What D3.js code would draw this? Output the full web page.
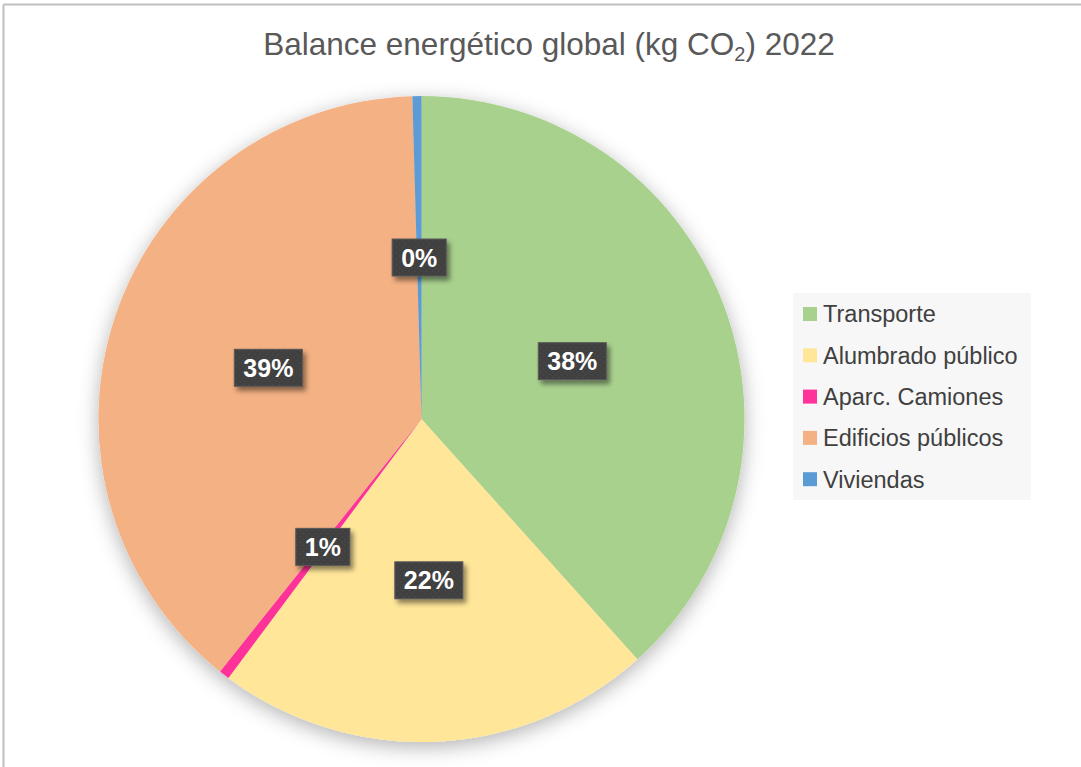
<!DOCTYPE html>
<html>
<head>
<meta charset="utf-8">
<script src="https://cdn.jsdelivr.net/npm/d3@7"></script>
<style>
  html, body { margin: 0; padding: 0; background: #ffffff; }
  svg { display: block; }
</style>
</head>
<body>
<svg id="chart" width="1081" height="767"></svg>
<script>
// Emission shares by sector (percent of total kg CO2)
const categories = ["Transporte", "Alumbrado público", "Aparc. Camiones", "Edificios públicos", "Viviendas"];
const values = [38.35, 21.85, 0.52, 38.83, 0.45];
const colors = ["#a9d18e", "#ffe699", "#ff3399", "#f4b183", "#5b9bd5"];

const W = 1081, H = 767;
const cx = 421.5, cy = 419, R = 323;

const svg = d3.select("#chart");
const defs = svg.append("defs");

// Soft halo around the pie
const halo = defs.append("filter").attr("id", "halo")
  .attr("x", "-20%").attr("y", "-20%").attr("width", "140%").attr("height", "140%");
halo.append("feDropShadow").attr("dx", 0).attr("dy", 5).attr("stdDeviation", 10)
  .attr("flood-color", "#000").attr("flood-opacity", 0.3);

// Shadow under the data-label boxes
const boxShadow = defs.append("filter").attr("id", "boxShadow")
  .attr("x", "-30%").attr("y", "-30%").attr("width", "160%").attr("height", "170%");
boxShadow.append("feDropShadow").attr("dx", 3).attr("dy", 4).attr("stdDeviation", 2.5)
  .attr("flood-color", "#000").attr("flood-opacity", 0.45);

// Dotted texture inside label boxes
const pat = defs.append("pattern").attr("id", "dots")
  .attr("width", 6).attr("height", 6).attr("patternUnits", "userSpaceOnUse");
pat.append("rect").attr("width", 6).attr("height", 6).attr("fill", "#404040");
pat.append("circle").attr("cx", 1.5).attr("cy", 1.5).attr("r", 0.8).attr("fill", "#4d4d4d");
pat.append("circle").attr("cx", 4.5).attr("cy", 4.5).attr("r", 0.8).attr("fill", "#4d4d4d");

// Frame lines
svg.append("line").attr("x1", 3.5).attr("x2", W).attr("y1", 4.5).attr("y2", 4.5)
  .attr("stroke", "#bfbfbf").attr("stroke-width", 2);
svg.append("line").attr("x1", 3.5).attr("x2", 3.5).attr("y1", 4.5).attr("y2", H)
  .attr("stroke", "#bfbfbf").attr("stroke-width", 2);

// Title
const title = svg.append("text")
  .attr("x", 549).attr("y", 55)
  .attr("text-anchor", "middle")
  .attr("font-family", "'Liberation Sans', Arial, sans-serif")
  .attr("font-size", 31.5)
  .attr("fill", "#595959");
title.append("tspan").text("Balance energético global (kg CO");
title.append("tspan").attr("font-size", 20).attr("dy", 6).text("2");
title.append("tspan").attr("dy", -6).text(") 2022");

// Pie
const total = d3.sum(values);
const data = categories.map((c, i) => ({ name: c, value: values[i], color: colors[i] }));
const pie = d3.pie().value(d => d.value).sort(null);
const arcs = pie(data);
const arc = d3.arc().innerRadius(0).outerRadius(R);

const g = svg.append("g").attr("transform", `translate(${cx},${cy})`);
g.append("g").attr("filter", "url(#halo)")
  .selectAll("path").data(arcs).join("path")
  .attr("d", arc)
  .attr("fill", d => d.data.color);

// Data labels at half radius
const fmt = d3.format(".0%");
const labels = g.append("g").selectAll("g").data(arcs).join("g")
  .attr("transform", d => {
    const [x, y] = arc.centroid(d);
    return `translate(${x},${y})`;
  });

labels.each(function(d) {
  const sel = d3.select(this);
  const t = sel.append("text")
    .attr("text-anchor", "middle")
    .attr("dy", "0.36em")
    .attr("font-family", "'Liberation Sans', Arial, sans-serif")
    .attr("font-weight", "bold")
    .attr("font-size", 25)
    .attr("fill", "#ffffff")
    .text(fmt(d.data.value / total));
  const bb = t.node().getBBox();
  const padX = 9, boxH = 37;
  sel.insert("rect", "text")
    .attr("x", -bb.width / 2 - padX)
    .attr("y", -boxH / 2)
    .attr("width", bb.width + padX * 2)
    .attr("height", boxH)
    .attr("fill", "url(#dots)")
    .attr("stroke", "#595959")
    .attr("stroke-width", 1)
    .attr("filter", "url(#boxShadow)");
});

// Legend
const legX = 793, legY = 293, legW = 238, legH = 207, rowH = 41.3;
const legend = svg.append("g");
legend.append("rect").attr("x", legX).attr("y", legY).attr("width", legW).attr("height", legH)
  .attr("fill", "#f7f7f7");
const items = legend.selectAll("g.item").data(data).join("g").attr("class", "item")
  .attr("transform", (d, i) => `translate(${legX + 10},${legY + 21 + i * rowH})`);
items.append("rect").attr("x", 0).attr("y", -7).attr("width", 14).attr("height", 14)
  .attr("fill", d => d.color);
items.append("text").attr("x", 20).attr("dy", "0.36em")
  .attr("font-family", "'Liberation Sans', Arial, sans-serif")
  .attr("font-size", 23.5)
  .attr("fill", "#404040")
  .text(d => d.name);
</script>
</body>
</html>
